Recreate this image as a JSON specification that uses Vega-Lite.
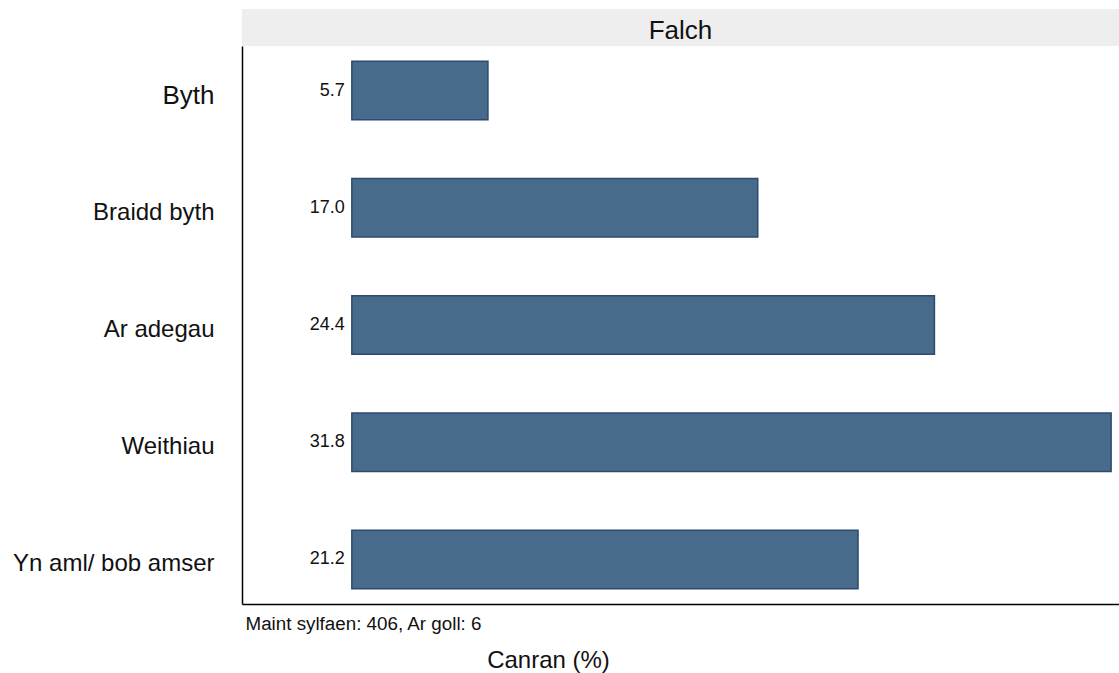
{
  "$schema": "https://vega.github.io/schema/vega-lite/v6.json",
  "padding": {"left": 12, "top": 9, "right": 0, "bottom": 5},
  "background": "white",
  "config": {
    "font": "Liberation Sans",
    "view": {"stroke": null},
    "concat": {"spacing": 0}
  },
  "datasets": {
    "bars": [
      {"category": "Byth", "pct": 5.7, "label": "5.7"},
      {"category": "Braidd byth", "pct": 17.0, "label": "17.0"},
      {"category": "Ar adegau", "pct": 24.4, "label": "24.4"},
      {"category": "Weithiau", "pct": 31.8, "label": "31.8"},
      {"category": "Yn aml/ bob amser", "pct": 21.2, "label": "21.2"}
    ],
    "header": [{"panel": "Falch"}]
  },
  "vconcat": [
    {
      "width": 877,
      "height": 37,
      "view": {"fill": "#eeeeee", "stroke": null},
      "data": {"name": "header"},
      "mark": {"type": "text", "fontSize": 26, "color": "#111111", "baseline": "middle", "align": "center", "dy": 3},
      "encoding": {"text": {"field": "panel"}}
    },
    {
      "width": 877,
      "height": 558,
      "data": {"name": "bars"},
      "title": {"text": "Canran (%)", "orient": "bottom", "anchor": "middle", "fontSize": 24, "fontWeight": "normal", "color": "#111111", "dx": -132, "offset": 16},
      "encoding": {
        "y": {
          "field": "category",
          "type": "nominal",
          "sort": ["Byth", "Braidd byth", "Ar adegau", "Weithiau", "Yn aml/ bob amser"],
          "scale": {"paddingInner": 0.5, "paddingOuter": 0.13},
          "axis": {
            "title": null,
            "domain": true,
            "domainColor": "#000000",
            "domainWidth": 1.5,
            "ticks": false,
            "labelPadding": 28,
            "labelOffset": 5,
            "labelColor": "#111111",
            "labelFontSize": {"condition": {"test": "datum.value == 'Byth'", "value": 26}, "value": 24},
            "labelLimit": 400
          }
        }
      },
      "layer": [
        {
          "mark": {"type": "bar", "fill": "#486b8c", "stroke": "#2b4b6f", "strokeWidth": 1.5},
          "encoding": {
            "x": {
              "field": "pct",
              "type": "quantitative",
              "scale": {"domain": [-4.6, 32.13], "nice": false, "zero": false},
              "axis": {
                "title": "Maint sylfaen: 406, Ar goll: 6",
                "titleAnchor": "start",
                "titleFontSize": 18.8,
                "titleFontWeight": "normal",
                "titleColor": "#111111",
                "titlePadding": 10,
                "titleX": 3,
                "labels": false,
                "ticks": false,
                "grid": false,
                "domain": true,
                "domainColor": "#000000",
                "domainWidth": 1.5
              }
            },
            "x2": {"datum": 0}
          }
        },
        {
          "mark": {"type": "text", "align": "right", "baseline": "middle", "dx": -7, "fontSize": 18, "color": "#111111"},
          "encoding": {
            "x": {"datum": 0, "type": "quantitative"},
            "text": {"field": "label"}
          }
        }
      ]
    }
  ]
}
